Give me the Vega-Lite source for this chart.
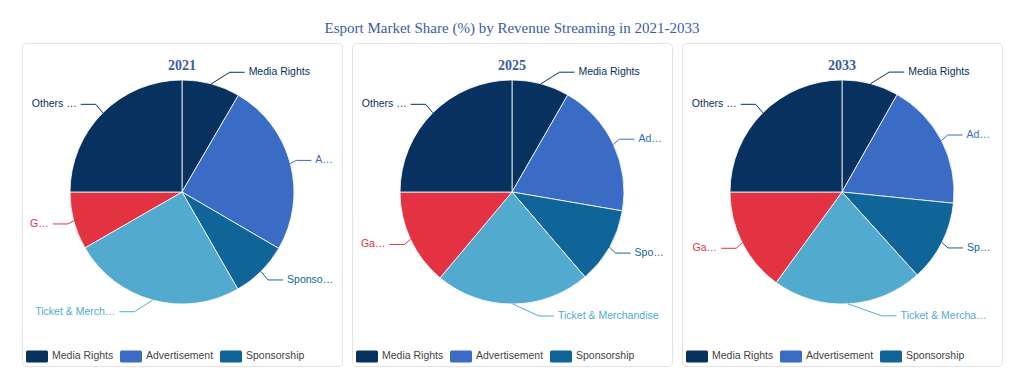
{
  "$schema": "https://vega.github.io/schema/vega-lite/v6.json",
  "padding": {"left": 21, "top": 20, "right": 0, "bottom": 0},
  "background": "white",
  "title": {"text": "Esport Market Share (%) by Revenue Streaming in 2021-2033", "anchor": "middle", "font": "Liberation Serif", "fontSize": 15, "fontWeight": "normal", "color": "#3a5ca8", "offset": 7},
  "config": {
    "view": {"stroke": "#e3e3e3", "cornerRadius": 4, "strokeWidth": 1},
    "concat": {"spacing": 8}
  },
  "datasets": {
    "shares": [
      {"year": 2021, "rank": 1, "category": "Media Rights", "label": "Media Rights", "share": 8.4},
      {"year": 2021, "rank": 2, "category": "Advertisement", "label": "A…", "share": 25.0},
      {"year": 2021, "rank": 3, "category": "Sponsorship", "label": "Sponso…", "share": 8.3},
      {"year": 2021, "rank": 4, "category": "Ticket & Merchandise", "label": "Ticket & Merch…", "share": 25.0},
      {"year": 2021, "rank": 5, "category": "Game Publisher Fees", "label": "G…", "share": 8.3},
      {"year": 2021, "rank": 6, "category": "Others (Digital & Streaming)", "label": "Others …", "share": 25.0},
      {"year": 2025, "rank": 1, "category": "Media Rights", "label": "Media Rights", "share": 8.3},
      {"year": 2025, "rank": 2, "category": "Advertisement", "label": "Ad…", "share": 19.4},
      {"year": 2025, "rank": 3, "category": "Sponsorship", "label": "Spo…", "share": 11.0},
      {"year": 2025, "rank": 4, "category": "Ticket & Merchandise", "label": "Ticket & Merchandise", "share": 22.4},
      {"year": 2025, "rank": 5, "category": "Game Publisher Fees", "label": "Ga…", "share": 13.9},
      {"year": 2025, "rank": 6, "category": "Others (Digital & Streaming)", "label": "Others …", "share": 25.0},
      {"year": 2033, "rank": 1, "category": "Media Rights", "label": "Media Rights", "share": 8.2},
      {"year": 2033, "rank": 2, "category": "Advertisement", "label": "Ad…", "share": 18.4},
      {"year": 2033, "rank": 3, "category": "Sponsorship", "label": "Sp…", "share": 11.7},
      {"year": 2033, "rank": 4, "category": "Ticket & Merchandise", "label": "Ticket & Mercha…", "share": 21.7},
      {"year": 2033, "rank": 5, "category": "Game Publisher Fees", "label": "Ga…", "share": 15.0},
      {"year": 2033, "rank": 6, "category": "Others (Digital & Streaming)", "label": "Others …", "share": 25.0}
    ]
  },
  "resolve": {"scale": {"color": "independent"}, "legend": {"color": "independent"}},
  "hconcat": [
    {
      "width": 320, "height": 323,
      "title": {"text": "2021", "offset": -30, "frame": "group", "anchor": "middle", "font": "Liberation Serif", "fontSize": 14, "fontWeight": "bold", "color": "#3a5ca8"},
      "data": {"name": "shares"},
      "transform": [
        {"filter": "datum.year == 2021"},
        {"joinaggregate": [{"op": "sum", "field": "share", "as": "total"}]},
        {"window": [{"op": "sum", "field": "share", "as": "cum"}], "sort": [{"field": "rank"}], "frame": [null, 0]},
        {"calculate": "(datum.cum - datum.share / 2) / datum.total * 2 * PI", "as": "mid"},
        {"calculate": "sin(datum.mid)", "as": "s"},
        {"calculate": "cos(datum.mid)", "as": "c"},
        {"calculate": "datum.s > -0.01 ? 1 : -1", "as": "side"},
        {"calculate": "datum.s * 112", "as": "ex"},
        {"calculate": "datum.c * 112", "as": "ey"},
        {"calculate": "datum.c * 124", "as": "by"},
        {"calculate": "datum.side * sqrt(max(0, 137 * 137 - datum.by * datum.by))", "as": "lx0"},
        {"calculate": "datum.side > 0 ? min(datum.lx0, 150 - length(datum.label) * 5.2) : max(datum.lx0, -150 + length(datum.label) * 5.2)", "as": "lx"},
        {"calculate": "datum.lx - datum.side * 4", "as": "cx"},
        {"calculate": "datum.cx - datum.side * 15", "as": "bx"}
      ],
      "layer": [
        {
          "mark": {"type": "arc", "radius": 112, "stroke": "#ffffff", "strokeWidth": 0.8},
          "encoding": {
            "x": {"datum": 0, "type": "quantitative", "scale": {"domain": [-160, 160], "nice": false, "zero": false}, "axis": null},
            "y": {"datum": 0, "type": "quantitative", "scale": {"domain": [-174, 149], "nice": false, "zero": false}, "axis": null},
            "theta": {"field": "share", "type": "quantitative", "stack": true},
            "order": {"field": "rank", "type": "quantitative"},
            "color": {
              "field": "category", "type": "nominal",
              "scale": {"domain": ["Media Rights", "Advertisement", "Sponsorship", "Ticket & Merchandise", "Game Publisher Fees", "Others (Digital & Streaming)"], "range": ["#07325f", "#3a6bc5", "#0f6599", "#52abcf", "#e33242", "#07325f"]},
              "legend": {"orient": "none", "legendX": 4, "legendY": 302, "direction": "horizontal", "columns": 3, "values": ["Media Rights", "Advertisement", "Sponsorship"], "title": null, "symbolType": "M-0.85,-0.55L0.85,-0.55Q1,-0.55 1,-0.4L1,0.4Q1,0.55 0.85,0.55L-0.85,0.55Q-1,0.55 -1,0.4L-1,-0.4Q-1,-0.55 -0.85,-0.55Z", "symbolSize": 484, "symbolStrokeWidth": 0, "symbolOpacity": 1, "labelFont": "Liberation Sans", "labelFontSize": 10.5, "labelColor": "#444444", "labelOffset": 4, "columnPadding": 6}
            }
          }
        },
        {
          "mark": {"type": "rule", "strokeWidth": 1},
          "encoding": {
            "x": {"field": "ex", "type": "quantitative"},
            "y": {"field": "ey", "type": "quantitative"},
            "x2": {"field": "bx"},
            "y2": {"field": "by"},
            "color": {"field": "category", "type": "nominal", "legend": null}
          }
        },
        {
          "mark": {"type": "rule", "strokeWidth": 1},
          "encoding": {
            "x": {"field": "bx", "type": "quantitative"},
            "y": {"field": "by", "type": "quantitative"},
            "x2": {"field": "cx"},
            "color": {"field": "category", "type": "nominal", "legend": null}
          }
        },
        {
          "transform": [{"filter": "datum.side > 0"}],
          "mark": {"type": "text", "align": "left", "baseline": "middle", "font": "Liberation Sans", "fontSize": 10.5},
          "encoding": {
            "x": {"field": "lx", "type": "quantitative"},
            "y": {"field": "by", "type": "quantitative"},
            "text": {"field": "label"},
            "color": {"field": "category", "type": "nominal", "legend": null}
          }
        },
        {
          "transform": [{"filter": "datum.side < 0"}],
          "mark": {"type": "text", "align": "right", "baseline": "middle", "font": "Liberation Sans", "fontSize": 10.5},
          "encoding": {
            "x": {"field": "lx", "type": "quantitative"},
            "y": {"field": "by", "type": "quantitative"},
            "text": {"field": "label"},
            "color": {"field": "category", "type": "nominal", "legend": null}
          }
        }
      ]
    },
    {
      "width": 320, "height": 323,
      "title": {"text": "2025", "offset": -30, "frame": "group", "anchor": "middle", "font": "Liberation Serif", "fontSize": 14, "fontWeight": "bold", "color": "#3a5ca8"},
      "data": {"name": "shares"},
      "transform": [
        {"filter": "datum.year == 2025"},
        {"joinaggregate": [{"op": "sum", "field": "share", "as": "total"}]},
        {"window": [{"op": "sum", "field": "share", "as": "cum"}], "sort": [{"field": "rank"}], "frame": [null, 0]},
        {"calculate": "(datum.cum - datum.share / 2) / datum.total * 2 * PI", "as": "mid"},
        {"calculate": "sin(datum.mid)", "as": "s"},
        {"calculate": "cos(datum.mid)", "as": "c"},
        {"calculate": "datum.s > -0.01 ? 1 : -1", "as": "side"},
        {"calculate": "datum.s * 112", "as": "ex"},
        {"calculate": "datum.c * 112", "as": "ey"},
        {"calculate": "datum.c * 124", "as": "by"},
        {"calculate": "datum.side * sqrt(max(0, 137 * 137 - datum.by * datum.by))", "as": "lx0"},
        {"calculate": "datum.side > 0 ? min(datum.lx0, 150 - length(datum.label) * 5.2) : max(datum.lx0, -150 + length(datum.label) * 5.2)", "as": "lx"},
        {"calculate": "datum.lx - datum.side * 4", "as": "cx"},
        {"calculate": "datum.cx - datum.side * 15", "as": "bx"}
      ],
      "layer": [
        {
          "mark": {"type": "arc", "radius": 112, "stroke": "#ffffff", "strokeWidth": 0.8},
          "encoding": {
            "x": {"datum": 0, "type": "quantitative", "scale": {"domain": [-160, 160], "nice": false, "zero": false}, "axis": null},
            "y": {"datum": 0, "type": "quantitative", "scale": {"domain": [-174, 149], "nice": false, "zero": false}, "axis": null},
            "theta": {"field": "share", "type": "quantitative", "stack": true},
            "order": {"field": "rank", "type": "quantitative"},
            "color": {
              "field": "category", "type": "nominal",
              "scale": {"domain": ["Media Rights", "Advertisement", "Sponsorship", "Ticket & Merchandise", "Game Publisher Fees", "Others (Digital & Streaming)"], "range": ["#07325f", "#3a6bc5", "#0f6599", "#52abcf", "#e33242", "#07325f"]},
              "legend": {"orient": "none", "legendX": 4, "legendY": 302, "direction": "horizontal", "columns": 3, "values": ["Media Rights", "Advertisement", "Sponsorship"], "title": null, "symbolType": "M-0.85,-0.55L0.85,-0.55Q1,-0.55 1,-0.4L1,0.4Q1,0.55 0.85,0.55L-0.85,0.55Q-1,0.55 -1,0.4L-1,-0.4Q-1,-0.55 -0.85,-0.55Z", "symbolSize": 484, "symbolStrokeWidth": 0, "symbolOpacity": 1, "labelFont": "Liberation Sans", "labelFontSize": 10.5, "labelColor": "#444444", "labelOffset": 4, "columnPadding": 6}
            }
          }
        },
        {
          "mark": {"type": "rule", "strokeWidth": 1},
          "encoding": {
            "x": {"field": "ex", "type": "quantitative"},
            "y": {"field": "ey", "type": "quantitative"},
            "x2": {"field": "bx"},
            "y2": {"field": "by"},
            "color": {"field": "category", "type": "nominal", "legend": null}
          }
        },
        {
          "mark": {"type": "rule", "strokeWidth": 1},
          "encoding": {
            "x": {"field": "bx", "type": "quantitative"},
            "y": {"field": "by", "type": "quantitative"},
            "x2": {"field": "cx"},
            "color": {"field": "category", "type": "nominal", "legend": null}
          }
        },
        {
          "transform": [{"filter": "datum.side > 0"}],
          "mark": {"type": "text", "align": "left", "baseline": "middle", "font": "Liberation Sans", "fontSize": 10.5},
          "encoding": {
            "x": {"field": "lx", "type": "quantitative"},
            "y": {"field": "by", "type": "quantitative"},
            "text": {"field": "label"},
            "color": {"field": "category", "type": "nominal", "legend": null}
          }
        },
        {
          "transform": [{"filter": "datum.side < 0"}],
          "mark": {"type": "text", "align": "right", "baseline": "middle", "font": "Liberation Sans", "fontSize": 10.5},
          "encoding": {
            "x": {"field": "lx", "type": "quantitative"},
            "y": {"field": "by", "type": "quantitative"},
            "text": {"field": "label"},
            "color": {"field": "category", "type": "nominal", "legend": null}
          }
        }
      ]
    },
    {
      "width": 320, "height": 323,
      "title": {"text": "2033", "offset": -30, "frame": "group", "anchor": "middle", "font": "Liberation Serif", "fontSize": 14, "fontWeight": "bold", "color": "#3a5ca8"},
      "data": {"name": "shares"},
      "transform": [
        {"filter": "datum.year == 2033"},
        {"joinaggregate": [{"op": "sum", "field": "share", "as": "total"}]},
        {"window": [{"op": "sum", "field": "share", "as": "cum"}], "sort": [{"field": "rank"}], "frame": [null, 0]},
        {"calculate": "(datum.cum - datum.share / 2) / datum.total * 2 * PI", "as": "mid"},
        {"calculate": "sin(datum.mid)", "as": "s"},
        {"calculate": "cos(datum.mid)", "as": "c"},
        {"calculate": "datum.s > -0.01 ? 1 : -1", "as": "side"},
        {"calculate": "datum.s * 112", "as": "ex"},
        {"calculate": "datum.c * 112", "as": "ey"},
        {"calculate": "datum.c * 124", "as": "by"},
        {"calculate": "datum.side * sqrt(max(0, 137 * 137 - datum.by * datum.by))", "as": "lx0"},
        {"calculate": "datum.side > 0 ? min(datum.lx0, 150 - length(datum.label) * 5.2) : max(datum.lx0, -150 + length(datum.label) * 5.2)", "as": "lx"},
        {"calculate": "datum.lx - datum.side * 4", "as": "cx"},
        {"calculate": "datum.cx - datum.side * 15", "as": "bx"}
      ],
      "layer": [
        {
          "mark": {"type": "arc", "radius": 112, "stroke": "#ffffff", "strokeWidth": 0.8},
          "encoding": {
            "x": {"datum": 0, "type": "quantitative", "scale": {"domain": [-160, 160], "nice": false, "zero": false}, "axis": null},
            "y": {"datum": 0, "type": "quantitative", "scale": {"domain": [-174, 149], "nice": false, "zero": false}, "axis": null},
            "theta": {"field": "share", "type": "quantitative", "stack": true},
            "order": {"field": "rank", "type": "quantitative"},
            "color": {
              "field": "category", "type": "nominal",
              "scale": {"domain": ["Media Rights", "Advertisement", "Sponsorship", "Ticket & Merchandise", "Game Publisher Fees", "Others (Digital & Streaming)"], "range": ["#07325f", "#3a6bc5", "#0f6599", "#52abcf", "#e33242", "#07325f"]},
              "legend": {"orient": "none", "legendX": 4, "legendY": 302, "direction": "horizontal", "columns": 3, "values": ["Media Rights", "Advertisement", "Sponsorship"], "title": null, "symbolType": "M-0.85,-0.55L0.85,-0.55Q1,-0.55 1,-0.4L1,0.4Q1,0.55 0.85,0.55L-0.85,0.55Q-1,0.55 -1,0.4L-1,-0.4Q-1,-0.55 -0.85,-0.55Z", "symbolSize": 484, "symbolStrokeWidth": 0, "symbolOpacity": 1, "labelFont": "Liberation Sans", "labelFontSize": 10.5, "labelColor": "#444444", "labelOffset": 4, "columnPadding": 6}
            }
          }
        },
        {
          "mark": {"type": "rule", "strokeWidth": 1},
          "encoding": {
            "x": {"field": "ex", "type": "quantitative"},
            "y": {"field": "ey", "type": "quantitative"},
            "x2": {"field": "bx"},
            "y2": {"field": "by"},
            "color": {"field": "category", "type": "nominal", "legend": null}
          }
        },
        {
          "mark": {"type": "rule", "strokeWidth": 1},
          "encoding": {
            "x": {"field": "bx", "type": "quantitative"},
            "y": {"field": "by", "type": "quantitative"},
            "x2": {"field": "cx"},
            "color": {"field": "category", "type": "nominal", "legend": null}
          }
        },
        {
          "transform": [{"filter": "datum.side > 0"}],
          "mark": {"type": "text", "align": "left", "baseline": "middle", "font": "Liberation Sans", "fontSize": 10.5},
          "encoding": {
            "x": {"field": "lx", "type": "quantitative"},
            "y": {"field": "by", "type": "quantitative"},
            "text": {"field": "label"},
            "color": {"field": "category", "type": "nominal", "legend": null}
          }
        },
        {
          "transform": [{"filter": "datum.side < 0"}],
          "mark": {"type": "text", "align": "right", "baseline": "middle", "font": "Liberation Sans", "fontSize": 10.5},
          "encoding": {
            "x": {"field": "lx", "type": "quantitative"},
            "y": {"field": "by", "type": "quantitative"},
            "text": {"field": "label"},
            "color": {"field": "category", "type": "nominal", "legend": null}
          }
        }
      ]
    }
  ]
}
